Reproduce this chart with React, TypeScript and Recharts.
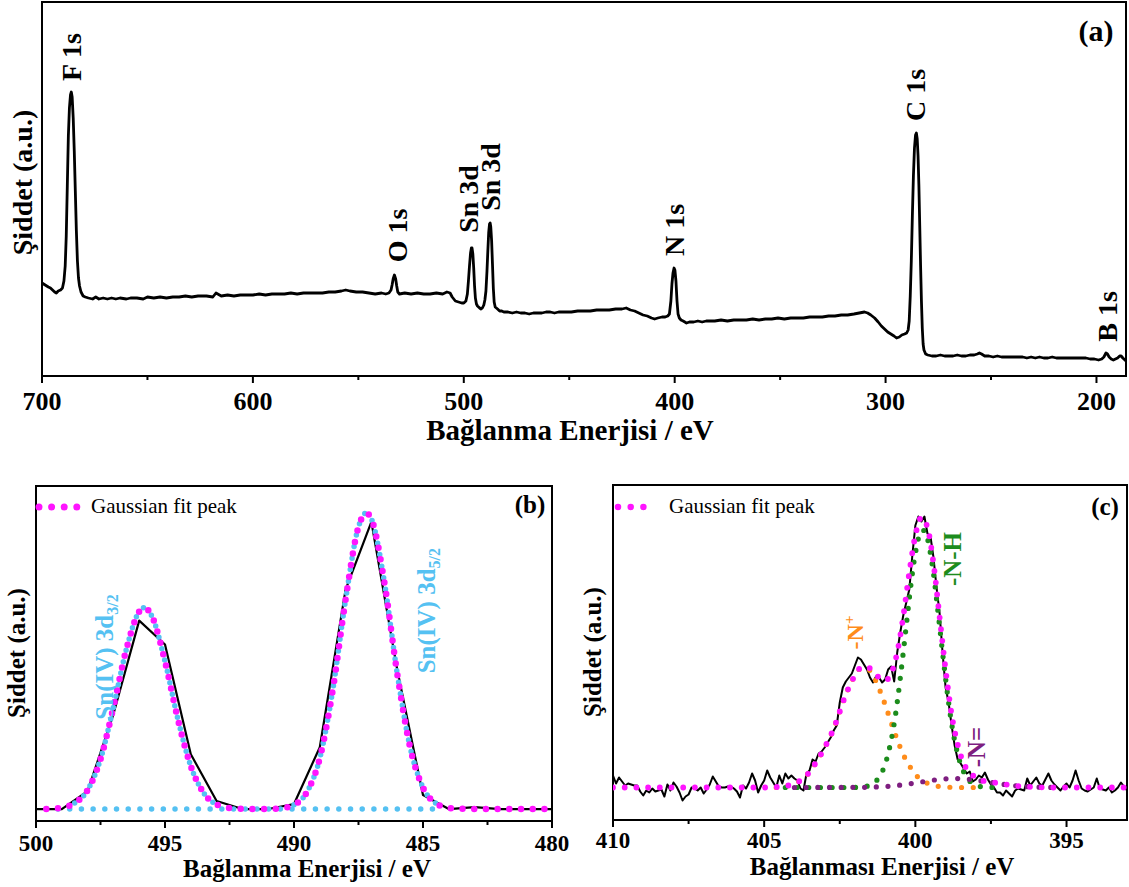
import React from 'react';
import { LineChart, Line, XAxis, YAxis, ReferenceArea, ReferenceDot, Customized, Legend } from 'recharts';

const SERIF = '"Liberation Serif", "Times New Roman", Times, serif';
const MAGENTA = '#FF14FF';
const SKY = '#55C1F2';
const GREEN = '#1C8C1C';
const ORANGE = '#FF8C1A';
const PURPLE = '#7E1E80';

/* ---------------- Panel (a): survey spectrum ---------------- */
const aEnergy = [
  700, 698.5, 697, 696, 695, 694, 693.2, 692.3, 691.2, 690.3,
  689.6, 689, 688.5, 688, 687.5, 687, 686.5, 686.1, 685.7, 685.2,
  684.7, 684.2, 683.7, 683.2, 682.7, 682.2, 681.5, 680.5, 679.5, 678,
  676, 674.5, 673, 671, 669, 667, 665, 663, 660, 658,
  655, 652, 650, 647, 644, 641, 638, 635, 632, 629,
  626, 622, 619, 617.5, 615, 612, 609, 606, 603, 600,
  597, 594, 591, 588, 585, 582, 579, 576, 573, 570,
  567, 564, 561, 558, 556, 554, 551, 548, 545, 542,
  539, 537, 535.5, 534.5, 534, 533.5, 532.9, 532.3, 531.8, 531.3,
  530.5, 528, 525, 522, 519, 516, 513, 510, 508, 506.5,
  505.5, 504, 502.5, 501, 500, 499, 498.3, 497.8, 497.3, 496.8,
  496.4, 496.1, 495.7, 495.3, 494.9, 494.5, 494, 493.5, 492.5, 491.8,
  491.2, 490.5, 490, 489.5, 489, 488.6, 488.2, 487.8, 487.5, 487.2,
  486.8, 486.4, 486, 485.6, 485.1, 484, 483, 482, 481, 479,
  477, 475, 473, 471, 469, 467, 465, 463, 461, 459,
  457, 455, 452, 449, 446, 443, 440, 437, 434, 431,
  428, 425, 423, 421, 419, 417, 415, 413, 411, 409.5,
  408, 406, 404.5, 403.3, 402.5, 401.8, 401.3, 400.8, 400.3, 399.9,
  399.4, 398.9, 398.4, 397.8, 397, 396, 394.4, 393, 391, 389,
  387, 385, 383, 381, 378, 375, 372, 369, 366, 363,
  360, 357, 354, 351, 348, 345, 342, 339, 336, 333,
  330, 327, 324, 321, 318, 315, 312.5, 310, 308.5, 307,
  305.2, 303.5, 302, 300.5, 299, 297.5, 296, 294.8, 293.5, 292.3,
  291, 290, 289.3, 288.8, 288.3, 287.8, 287.3, 286.8, 286.3, 285.8,
  285.4, 285, 284.6, 284.2, 283.8, 283.4, 283, 282.6, 282.2, 281.8,
  281, 280, 278, 276, 274, 272, 270, 268, 266, 264,
  262, 260, 258, 256.5, 255.5, 254.5, 253, 251, 249, 247,
  245, 243, 241, 239, 237, 235, 233, 231, 229, 227,
  225, 223, 221, 219, 217, 215, 213, 211, 209, 207,
  205, 203, 201, 199, 197.5, 196.5, 195.5, 194.8, 194, 193,
  192, 191, 190, 189, 188.3, 187.5, 186.5, 186,
];
const aIntensity = [
  93, 91, 89, 88, 86, 84, 83, 85, 86, 88,
  95, 110, 140, 190, 240, 268, 281, 284, 279, 258,
  225, 185, 145, 115, 98, 90, 84, 80, 79, 78,
  77, 79, 77, 78, 77, 78, 77, 78, 77, 78,
  78, 77, 79, 78, 79, 78, 79, 79, 80, 79,
  80, 80, 79, 83, 80, 81, 80, 81, 81, 81,
  82, 81, 82, 82, 82, 83, 82, 83, 83, 83,
  83, 84, 84, 85, 86, 85, 84, 84, 83, 82,
  83, 82, 83, 86, 91, 97, 101, 97, 90, 84,
  82, 83, 82, 83, 82, 82, 83, 82, 84, 83,
  79, 75, 74, 73, 73, 75, 82, 95, 110, 123,
  128, 128, 122, 108, 90, 78, 72, 70, 68, 67,
  68, 71, 76, 85, 105, 125, 143, 152, 153, 149,
  135, 112, 88, 74, 69, 67, 65, 65, 64, 64,
  63, 64, 63, 63, 62, 63, 63, 63, 64, 64,
  63, 64, 64, 64, 65, 65, 65, 66, 66, 66,
  67, 67, 68, 66, 65, 63, 61, 60, 58, 57,
  58, 59, 59, 60, 62, 75, 92, 103, 108, 106,
  95, 75, 62, 58, 56, 55, 53, 54, 54, 55,
  54, 55, 55, 55, 56, 55, 56, 56, 56, 57,
  56, 57, 57, 58, 57, 58, 58, 58, 59, 59,
  59, 60, 60, 61, 61, 62, 63, 64, 63, 61,
  58, 54, 50, 47, 44, 42, 40, 38, 39, 41,
  42, 43, 46, 55, 80, 115, 160, 200, 228, 241,
  243, 237, 220, 190, 150, 110, 75, 48, 32, 26,
  22, 21, 20, 20, 21, 20, 20, 20, 21, 20,
  20, 21, 21, 22, 23, 22, 20, 20, 19, 20,
  19, 19, 19, 19, 19, 19, 18, 19, 18, 19,
  18, 18, 19, 18, 18, 18, 18, 18, 18, 18,
  18, 17, 17, 16, 17, 19, 23, 22, 19, 17,
  16, 17, 18, 20, 20, 18, 16, 15,
];
const aTicks = [700, 650, 600, 550, 500, 450, 400, 350, 300, 250, 200];
const aMajorTicks = [700, 600, 500, 400, 300, 200];
const aPeakNames = ['F 1s', 'O 1s', 'Sn 3d', 'Sn 3d', 'N 1s', 'C 1s', 'B 1s'];
const aPeakLabelE = [685.8, 531.3, 497.6, 487.2, 400.0, 285.8, 194.8];
const aPeakLabelY = [319, 140.5, 177, 199, 146, 281, 59.5];

/* ---------------- Panel (b): Sn 3d ---------------- */
const bLineE = [500, 499, 498, 497, 496, 495, 494, 493, 492, 491, 490, 489, 488, 487, 486, 485, 484, 483, 482, 481, 480];
const bLineV = [0, 0, 18, 95, 189, 165, 55, 8, 0, 0, 5, 62, 220, 288, 140, 14, 0, 2, 0, 0, 0];
const bFitE = [
  499.6, 499, 498.5, 498, 497.5, 497, 496.5, 496, 495.8, 495.5,
  495, 494.5, 494, 493.5, 493, 492.5, 492, 491, 490.5, 490,
  489.5, 489, 488.5, 488, 487.5, 487.2, 487, 486.5, 486, 485.5,
  485, 484.5, 484, 483.5, 482, 480.2,
];
const bFitV = [
  0, 1.4, 6, 19, 50, 102, 160, 198, 202, 193,
  148, 90, 43, 16, 4.6, 1, 0.2, 0.1, 0.8, 4.2,
  17, 51, 119, 210, 283, 297, 291, 228, 136, 62,
  21.5, 5.7, 1.2, 0.2, 0, 0,
];
const bSn32E = [498.5, 498, 497.5, 497, 496.5, 496, 495.8, 495.5, 495, 494.5, 494, 493.5, 493];
const bSn32V = [6, 19, 50, 102, 160, 198, 202, 193, 148, 90, 43, 16, 4.6];
const bSn52E = [490, 489.5, 489, 488.5, 488, 487.5, 487.2, 487, 486.5, 486, 485.5, 485, 484.5];
const bSn52V = [4.2, 17, 51, 119, 210, 283, 297, 291, 228, 136, 62, 21.5, 5.7];
const bBaseE = [499.6, 484.3];
const bBaseV = [0, 0];
const bTicks = [500, 497.5, 495, 492.5, 490, 487.5, 485, 482.5, 480];
const bMajorTicks = [500, 495, 490, 485, 480];

/* ---------------- Panel (c): N 1s ---------------- */
const cStart = 410;
const cStep = 0.1;
const cMeasured = [
  12, 4, 10, 6, 2, 4, 3, 2, 2, -4,
  -8, -3, -5, -1, -4, -3, -2, -9, 3, -3,
  5, 1, -5, -13, -9, -7, 0, -1, -3, 0,
  -6, -2, 3, 11, 6, 1, 0, 0, 1, 1,
  -1, -4, -10, 2, -1, 5, 14, 7, -5, 2,
  7, 17, 10, 5, 0, 12, 4, 14, 9, 12,
  9, 7, -1, -3, 14, 17, 28, 26, 34, 36,
  40, 45, 50, 57, 62, 85, 100, 106, 110, 114,
  122, 130, 128, 123, 118, 110, 105, 111, 110, 105,
  108, 118, 121, 106, 135, 155, 172, 185, 198, 232,
  262, 271, 266, 271, 254, 251, 230, 200, 175, 135,
  100, 85, 62, 42, 28, 24, 19, 14, 16, 6,
  8, 12, 10, 15, 8, 3, 0, -5, -5, -8,
  -3, -6, -9, -3, -1, -2, -3, 9, 2, 6,
  10, 4, 2, 8, 14, 7, 3, 0, -3, 1,
  4, 0, 7, 17, 7, -1, -3, -4, -2, 0,
  9, -1, -2, -3, 0, -5, -3, 0, 5, 1,
  -3,
];
const cFitE = [
  410, 405, 404.4, 404.2, 404, 403.8, 403.6, 403.4, 403.2, 403,
  402.8, 402.6, 402.4, 402.2, 402, 401.8, 401.6, 401.4, 401.2, 401,
  400.8, 400.6, 400.4, 400.2, 400, 399.8, 399.6, 399.4, 399.2, 399,
  398.8, 398.6, 398.4, 398.2, 398, 397.8, 397.6, 397.4, 397.2, 397,
  396.6, 396.2, 395.6, 393,
];
const cFitV = [
  0, 0, 1, 2, 4, 7, 12, 20, 29, 40,
  52, 67, 85, 100, 112, 120, 121, 116, 110, 107,
  114, 135, 171, 215, 252, 270, 260, 224, 171, 118,
  73, 43, 24, 15, 10, 7, 6, 5, 4, 3,
  1.4, 0.7, 0, 0,
];
const cNplusE = [
  404.6, 404.4, 404.2, 404, 403.8, 403.6, 403.4, 403.2, 403, 402.8,
  402.6, 402.4, 402.2, 402, 401.8, 401.6, 401.4, 401.2, 401, 400.8,
  400.6, 400.4, 400.2, 400, 399.8, 399.6, 399.4, 399.2, 399, 398.8,
  398.6, 398,
];
const cNplusV = [
  0, 1, 2, 4, 7, 12, 20, 29, 40, 52,
  67, 85, 100, 112, 119, 119, 112, 99, 83, 65,
  48, 33, 22, 13, 7.7, 4.2, 2.1, 1, 0.5, 0.2,
  0, 0,
];
const cNHE = [
  404.3, 402.1, 401.9, 401.8, 401.7, 401.6, 401.5, 401.4, 401.3, 401.2,
  401.1, 401, 400.9, 400.8, 400.7, 400.6, 400.5, 400.4, 400.3, 400.2,
  400.1, 400, 399.9, 399.8, 399.7, 399.6, 399.5, 399.4, 399.3, 399.2,
  399.1, 399, 398.9, 398.8, 398.7, 398.6, 398.5, 398.4, 398.3, 398.2,
  398.1, 398, 397.9, 397.8, 397.7, 397.6, 397.4, 397.2,
];
const cNHV = [
  0, 0, 0.2, 0.4, 0.7, 1.3, 2.3, 3.9, 6.4, 10.2,
  15.6, 23, 34, 47, 64, 85, 109, 135, 162, 189,
  214, 234, 249, 257, 257, 249, 234, 214, 189, 162,
  135, 109, 85, 64, 47, 34, 23, 15.6, 10.2, 6.4,
  3.9, 2.3, 1.3, 0.7, 0.4, 0.2, 0, 0,
];
const cNdoubleE = [404, 401.7, 401.2, 400.7, 400.2, 399.7, 399.2, 398.7, 398.2, 397.7, 397.2, 396.7, 396.2, 395.7, 395.2];
const cNdoubleV = [0, 0.2, 0.7, 1.7, 3.6, 6, 8.1, 9, 8.1, 6, 3.6, 1.7, 0.7, 0.2, 0];
const cTicks = [410, 407.5, 405, 402.5, 400, 397.5, 395];
const cMajorTicks = [410, 405, 400, 395];

/* ---------------- helpers ---------------- */
const zip = (es: number[], vs: number[]) => es.map((e, i) => ({ e, v: vs[i] }));

const aData = zip(aEnergy, aIntensity);
const bLine = zip(bLineE, bLineV);
const bFit = zip(bFitE, bFitV);
const bSn32 = zip(bSn32E, bSn32V);
const bSn52 = zip(bSn52E, bSn52V);
const bBase = zip(bBaseE, bBaseV);
const cMeasuredData = cMeasured.map((v, i) => ({ e: Math.round((cStart - i * cStep) * 10) / 10, v }));
const cFit = zip(cFitE, cFitV);
const cNplus = zip(cNplusE, cNplusV);
const cNH = zip(cNHE, cNHV);
const cNdouble = zip(cNdoubleE, cNdoubleV);

function makeTick(majors: number[], fontSize: number, labelOffset: number) {
  return function Tick(props: any) {
    const { x, y, payload } = props;
    const v = payload ? payload.value : 0;
    const isMajor = majors.some((m) => Math.abs(m - v) < 1e-6);
    return (
      <g>
        <line x1={x} x2={x} y1={y} y2={y + (isMajor ? 7 : 4)} stroke="#000" strokeWidth={2} />
        {isMajor && (
          <text x={x} y={y + labelOffset} textAnchor="middle" fontFamily={SERIF} fontWeight="bold" fontSize={fontSize} fill="#000">
            {v}
          </text>
        )}
      </g>
    );
  };
}

function rotLabel(content: React.ReactNode, color: string, fontSize: number) {
  return function RotLabel(props: any) {
    const vb = props.viewBox || { x: 0, y: 0, width: 0, height: 0 };
    const cx = vb.x + (vb.width || 0) / 2;
    const cy = vb.y + (vb.height || 0) / 2;
    return (
      <text
        x={cx}
        y={cy}
        dy="0.33em"
        transform={`rotate(-90 ${cx} ${cy})`}
        textAnchor="middle"
        fontFamily={SERIF}
        fontWeight="bold"
        fontSize={fontSize}
        fill={color}
      >
        {content}
      </text>
    );
  };
}

function legendContent(lineX1: number, lineX2: number, textX: number, dotW: number, gap: number) {
  return function LegendBox() {
    return (
      <svg width={320} height={30} style={{ display: 'block', overflow: 'visible' }}>
        <line x1={lineX1} x2={lineX2} y1={15} y2={15} stroke={MAGENTA} strokeWidth={dotW} strokeDasharray={`0 ${gap}`} strokeLinecap="round" />
        <text x={textX} y={21} fontFamily={SERIF} fontSize={21} fill="#000">Gaussian fit peak</text>
      </svg>
    );
  };
}

const dotted = (color: string, w: number, gap = 11.7) => ({
  stroke: color,
  strokeWidth: w,
  strokeDasharray: `0 ${gap}`,
  strokeLinecap: 'round' as const,
  dot: false as const,
  isAnimationActive: false,
  type: 'monotone' as const,
  dataKey: 'v',
});

function PanelA() {
  return (
    <LineChart width={1129} height={460} margin={{ top: 2, right: 3, bottom: 0, left: 42 }}>
      <XAxis
        type="number"
        dataKey="e"
        domain={[186, 700]}
        reversed
        ticks={aTicks}
        interval={0}
        tickSize={0}
        tickMargin={0}
        axisLine={false}
        tickLine={false}
        height={84}
        allowDataOverflow
        tick={makeTick(aMajorTicks, 26, 34)}
      />
      <YAxis type="number" hide domain={[0, 374]} allowDataOverflow />
      <ReferenceArea x1={186} x2={700} y1={0} y2={374} fill="none" stroke="#000" strokeWidth={2} ifOverflow="visible" />
      <Line data={aData} dataKey="v" type="linear" stroke="#000" strokeWidth={2.8} strokeLinejoin="round" dot={false} isAnimationActive={false} />
      {aPeakNames.map((name, i) => (
        <ReferenceDot
          key={`pk${i}`}
          x={aPeakLabelE[i]}
          y={aPeakLabelY[i]}
          r={1}
          fill="none"
          stroke="none"
          ifOverflow="visible"
          label={rotLabel(name, '#000', 28)}
        />
      ))}
      <Customized
        component={() => (
          <g fontFamily={SERIF} fontWeight="bold" fill="#000">
            <text x={32} y={182.5} transform="rotate(-90 32 182.5)" textAnchor="middle" fontSize={28}>Şiddet (a.u.)</text>
            <text x={570} y={440} textAnchor="middle" fontSize={29}>Bağlanma Enerjisi / eV</text>
            <text x={1096} y={41} textAnchor="middle" fontSize={30}>(a)</text>
          </g>
        )}
      />
    </LineChart>
  );
}

function PanelB() {
  return (
    <LineChart width={600} height={417} margin={{ top: 16, right: 48, bottom: 0, left: 36 }}>
      <XAxis
        type="number"
        dataKey="e"
        domain={[480, 500]}
        reversed
        ticks={bTicks}
        interval={0}
        tickSize={0}
        tickMargin={0}
        axisLine={false}
        tickLine={false}
        height={66}
        allowDataOverflow
        tick={makeTick(bMajorTicks, 23, 30)}
      />
      <YAxis type="number" hide domain={[-12, 324]} allowDataOverflow />
      <ReferenceArea x1={480} x2={500} y1={-12} y2={324} fill="none" stroke="#000" strokeWidth={2} ifOverflow="visible" />
      <Line data={bLine} dataKey="v" type="linear" stroke="#000" strokeWidth={2.2} strokeLinejoin="round" dot={false} isAnimationActive={false} />
      <Line data={bBase} {...dotted(SKY, 5.5)} />
      <Line data={bSn32} {...dotted(SKY, 5.5)} />
      <Line data={bSn52} {...dotted(SKY, 5.5)} />
      <Line data={bFit} {...dotted(MAGENTA, 6.5)} />
      <ReferenceDot
        x={497.33}
        y={152.5}
        r={1}
        fill="none"
        stroke="none"
        ifOverflow="visible"
        label={rotLabel(<>Sn(IV) 3d<tspan dy={5} fontSize={16}>3/2</tspan></>, SKY, 25)}
      />
      <ReferenceDot
        x={484.84}
        y={199}
        r={1}
        fill="none"
        stroke="none"
        ifOverflow="visible"
        label={rotLabel(<>Sn(IV) 3d<tspan dy={5} fontSize={16}>5/2</tspan></>, SKY, 25)}
      />
      <Legend
        layout="horizontal"
        verticalAlign="middle"
        align="center"
        wrapperStyle={{ position: 'absolute', left: 0, top: 22, width: 320, height: 30 }}
        content={legendContent(39, 77, 91, 7, 12.6)}
      />
      <Customized
        component={() => (
          <g fontFamily={SERIF} fontWeight="bold" fill="#000">
            <text x={25} y={183} transform="rotate(-90 25 183)" textAnchor="middle" fontSize={25}>Şiddet (a.u.)</text>
            <text x={307} y={407} textAnchor="middle" fontSize={25}>Bağlanma Enerjisi / eV</text>
            <text x={530} y={43} textAnchor="middle" fontSize={25}>(b)</text>
          </g>
        )}
      />
    </LineChart>
  );
}

function PanelC() {
  return (
    <LineChart width={569} height={417} margin={{ top: 15, right: 2, bottom: 0, left: 53 }}>
      <XAxis
        type="number"
        dataKey="e"
        domain={[393, 410]}
        reversed
        ticks={cTicks}
        interval={0}
        tickSize={0}
        tickMargin={0}
        axisLine={false}
        tickLine={false}
        height={67}
        allowDataOverflow
        tick={makeTick(cMajorTicks, 23, 28)}
      />
      <YAxis type="number" hide domain={[-32.5, 302.5]} allowDataOverflow />
      <ReferenceArea x1={393} x2={410} y1={-32.5} y2={302.5} fill="none" stroke="#000" strokeWidth={2} ifOverflow="visible" />
      <Line data={cMeasuredData} dataKey="v" type="linear" stroke="#000" strokeWidth={2} strokeLinejoin="round" dot={false} isAnimationActive={false} />
      <Line data={cNplus} {...dotted(ORANGE, 5.2)} />
      <Line data={cNH} {...dotted(GREEN, 5.2)} />
      <Line data={cNdouble} {...dotted(PURPLE, 5.2)} />
      <Line data={cFit} {...dotted(MAGENTA, 5.8)} />
      <ReferenceDot
        x={401.99}
        y={155}
        r={1}
        fill="none"
        stroke="none"
        ifOverflow="visible"
        label={rotLabel(<>-N<tspan dy={-9} fontSize={15}>+</tspan></>, ORANGE, 24)}
      />
      <ReferenceDot x={398.77} y={228.5} r={1} fill="none" stroke="none" ifOverflow="visible" label={rotLabel('-N-H', GREEN, 25)} />
      <ReferenceDot x={397.98} y={40.5} r={1} fill="none" stroke="none" ifOverflow="visible" label={rotLabel('-N=', PURPLE, 25)} />
      <Legend
        layout="horizontal"
        verticalAlign="middle"
        align="center"
        wrapperStyle={{ position: 'absolute', left: 0, top: 22, width: 320, height: 30 }}
        content={legendContent(58, 96, 109, 6.5, 12.7)}
      />
      <Customized
        component={() => (
          <g fontFamily={SERIF} fontWeight="bold" fill="#000">
            <text x={41} y={182} transform="rotate(-90 41 182)" textAnchor="middle" fontSize={25}>Şiddet (a.u.)</text>
            <text x={322} y={405} textAnchor="middle" fontSize={25}>Bağlanması Enerjisi / eV</text>
            <text x={545} y={45} textAnchor="middle" fontSize={25}>(c)</text>
          </g>
        )}
      />
    </LineChart>
  );
}

export default function App() {
  return (
    <div style={{ position: 'absolute', left: 0, top: 0, width: 1129, height: 887, background: '#fff', overflow: 'hidden' }}>
      <div style={{ position: 'absolute', left: 0, top: 0 }}>
        <PanelA />
      </div>
      <div style={{ position: 'absolute', left: 0, top: 470 }}>
        <PanelB />
      </div>
      <div style={{ position: 'absolute', left: 560, top: 470 }}>
        <PanelC />
      </div>
    </div>
  );
}
